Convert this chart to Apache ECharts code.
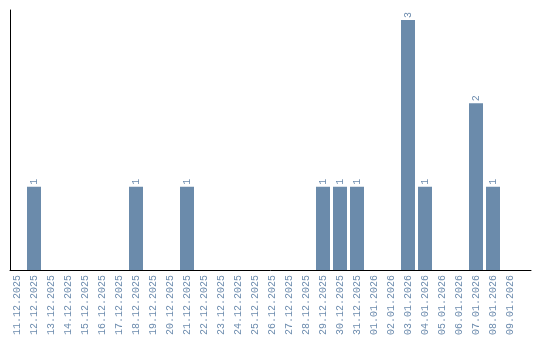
<!DOCTYPE html>
<html><head><meta charset="utf-8">
<script src="https://cdn.jsdelivr.net/npm/echarts@6/dist/echarts.min.js"></script>
<style>html,body{margin:0;padding:0;background:#fff}#c{width:540px;height:340px}</style>
</head><body><div id="c"></div>
<script>
const categories = ["11.12.2025","12.12.2025","13.12.2025","14.12.2025","15.12.2025","16.12.2025","17.12.2025","18.12.2025","19.12.2025","20.12.2025","21.12.2025","22.12.2025","23.12.2025","24.12.2025","25.12.2025","26.12.2025","27.12.2025","28.12.2025","29.12.2025","30.12.2025","31.12.2025","01.01.2026","02.01.2026","03.01.2026","04.01.2026","05.01.2026","06.01.2026","07.01.2026","08.01.2026","09.01.2026"];
const counts = [0,1,0,0,0,0,0,1,0,0,1,0,0,0,0,0,0,0,1,1,1,0,0,3,1,0,0,2,1,0];

const chart = echarts.init(document.getElementById('c'), null, {renderer:'canvas'});
const labelColor = '#6d8cae';
const barColor = '#6b8bab';
const font = 'Liberation Mono';
chart.setOption({
  animation:false,
  grid:[
    {left:8.5, width:510, top:10, height:260, containLabel:false},
    {left:10, width:521, top:10, height:260, containLabel:false}
  ],
  xAxis:[
    {type:'category', gridIndex:0, data:categories, boundaryGap:true,
     axisLine:{show:false}, axisTick:{show:false},
     axisLabel:{rotate:90, interval:0, color:labelColor, fontFamily:font, fontSize:10, margin:5}},
    {type:'value', gridIndex:1, min:0, max:1, axisLine:{show:true, lineStyle:{color:'#000', width:1}},
     axisTick:{show:false}, axisLabel:{show:false}, splitLine:{show:false}}
  ],
  yAxis:[
    {type:'value', gridIndex:0, min:0, max:function(v){return v.max*1.04;},
     axisLine:{show:false}, axisTick:{show:false}, axisLabel:{show:false}, splitLine:{show:false}},
    {type:'value', gridIndex:1, min:0, max:1, axisLine:{show:true, lineStyle:{color:'#000', width:1}},
     axisTick:{show:false}, axisLabel:{show:false}, splitLine:{show:false}}
  ],
  series:[{
    type:'bar', xAxisIndex:0, yAxisIndex:0,
    data:counts.map(v=> v>0 ? v : null),
    barWidth:14,
    itemStyle:{color:barColor},
    label:{show:true, position:'top', rotate:90, align:'left', verticalAlign:'middle', distance:2,
      color:labelColor, fontFamily:font, fontSize:10}
  }]
});
</script></body></html>
